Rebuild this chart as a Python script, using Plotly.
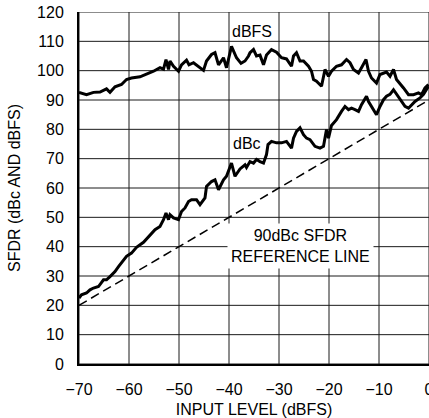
import plotly.graph_objects as go

# ---- data ----
dbfs_x = [-70.0, -68.5, -67.1, -65.8, -64.5, -63.8, -62.8, -61.5, -60.5, -59.5, -57.8, -56.5,
          -55.1, -53.8, -53.1, -52.6, -52.1, -51.8, -51.1, -50.1, -49.5, -48.5, -48.0, -47.1,
          -46.1, -45.1, -44.5, -43.5, -42.8, -42.1, -41.1, -40.5, -39.5, -38.5, -37.6, -36.8,
          -36.1, -35.8, -35.1, -34.5, -33.8, -33.1, -32.5, -31.5, -30.5, -29.5, -28.5, -27.5,
          -27.1, -26.5, -25.8, -25.1, -24.1, -23.5, -23.1, -22.5, -21.5, -20.8, -20.1, -19.5,
          -18.5, -17.5, -16.5, -15.8, -15.1, -14.1, -13.5, -12.6, -12.1, -11.5, -10.5, -9.8,
          -8.5, -7.8, -7.1, -6.5, -5.1, -4.1, -3.1, -2.1, -1.5, -0.8, -0.1]
dbfs_y = [92.6, 91.8, 92.6, 92.7, 93.8, 92.6, 94.5, 95.3, 97.0, 97.5, 97.9, 98.7,
          99.8, 101.0, 100.5, 103.8, 100.4, 103.3, 101.5, 99.8, 102.0, 103.6, 102.0, 102.7,
          101.5, 100.1, 103.3, 105.5, 106.1, 102.0, 104.4, 101.0, 108.3, 104.4, 102.5, 103.3,
          105.0, 106.1, 107.2, 105.0, 105.3, 102.0, 105.3, 107.2, 106.3, 104.4, 104.0, 101.5,
          105.0, 106.1, 103.3, 103.3, 101.5, 99.8, 97.0, 96.4, 94.7, 100.4, 98.1, 99.8,
          101.5, 102.0, 103.8, 102.7, 100.4, 99.2, 101.0, 103.8, 99.8, 97.5, 95.8, 98.7,
          99.5, 98.1, 100.4, 97.0, 94.1, 91.8, 91.8, 92.4, 91.8, 94.1, 95.3]

dbc_x = [-70.0, -69.5, -68.5, -67.8, -67.1, -66.1, -65.1, -64.5, -63.8, -62.8, -62.1, -61.1,
         -60.5, -59.5, -58.5, -57.1, -55.8, -54.8, -53.8, -53.1, -52.6, -52.1, -51.8, -51.1,
         -50.1, -49.5, -48.8, -48.1, -47.5, -46.5, -45.8, -44.8, -44.5, -43.5, -42.8, -42.1,
         -41.1, -40.5, -39.5, -38.8, -37.8, -36.8, -36.5, -35.8, -35.1, -34.5, -33.8, -33.1,
         -32.5, -32.2, -31.5, -30.5, -29.5, -28.5, -27.5, -27.1, -26.5, -25.8, -25.1, -24.5,
         -23.8, -22.8, -21.8, -21.1, -20.5, -20.1, -19.5, -18.8, -18.5, -17.5, -16.8, -16.1,
         -15.5, -14.8, -14.1, -13.5, -12.5, -12.1, -11.5, -10.5, -9.8, -9.1, -8.5, -7.8,
         -7.1, -6.5, -5.8, -4.8, -4.1, -3.5, -2.8, -1.8, -1.1, -0.1]
dbc_y = [22.5, 23.6, 24.2, 25.3, 25.9, 26.4, 28.7, 28.7, 29.8, 31.5, 33.2, 35.5,
         36.7, 37.8, 39.8, 41.5, 44.0, 45.8, 46.9, 49.2, 51.5, 49.2, 50.9, 49.8,
         49.2, 52.0, 53.2, 55.4, 56.0, 56.0, 54.3, 56.6, 60.5, 62.2, 62.8, 59.4,
         62.8, 64.0, 68.5, 64.0, 66.5, 67.9, 67.0, 69.0, 68.5, 69.7, 69.0, 68.5,
         71.4, 74.8, 75.9, 75.4, 75.4, 75.9, 73.6, 77.0, 79.3, 80.5, 78.2, 77.0,
         76.5, 74.2, 73.6, 74.2, 79.9, 77.0, 81.3, 82.8, 83.3, 86.1, 87.8, 86.7,
         87.2, 86.7, 86.1, 88.4, 91.3, 89.5, 87.8, 85.0, 87.8, 90.1, 91.3, 91.9,
         93.5, 91.9, 90.1, 87.8, 87.2, 88.4, 89.5, 90.7, 91.9, 94.7]

ref_x = [-70, 0]
ref_y = [20, 90]

x_ticks = [-70, -60, -50, -40, -30, -20, -10, 0]
x_tick_labels = ["\u221270", "\u221260", "\u221250", "\u221240", "\u221230", "\u221220", "\u221210", "0"]
y_ticks = [0, 10, 20, 30, 40, 50, 60, 70, 80, 90, 100, 110, 120]

FONT = "Liberation Sans, Arial, sans-serif"
GRID = "#1a1a1a"

fig = go.Figure()
fig.add_trace(go.Scatter(x=ref_x, y=ref_y, mode="lines",
                         line=dict(color="black", width=1.5, dash="9px,5px"),
                         showlegend=False, hoverinfo="skip"))
fig.add_trace(go.Scatter(x=dbc_x, y=dbc_y, mode="lines",
                         line=dict(color="black", width=3), showlegend=False))
fig.add_trace(go.Scatter(x=dbfs_x, y=dbfs_y, mode="lines",
                         line=dict(color="black", width=3), showlegend=False))

# grid lines at the tick values (drawn below the traces)
for xv in x_ticks:
    fig.add_shape(type="line", xref="x", yref="paper", x0=xv, x1=xv, y0=0, y1=1,
                  line=dict(color=GRID, width=1), layer="below")
for yv in y_ticks:
    fig.add_shape(type="line", xref="paper", yref="y", x0=0, x1=1, y0=yv, y1=yv,
                  line=dict(color=GRID, width=1), layer="below")

fig.add_annotation(x=-35.5, y=113.2, text="dBFS", showarrow=False,
                   font=dict(family=FONT, size=16, color="black"))
fig.add_annotation(x=-36.5, y=75.3, text="dBc", showarrow=False,
                   font=dict(family=FONT, size=16, color="black"))
fig.add_annotation(x=-25.8, y=40.2, text="90dBc SFDR<br>REFERENCE LINE", showarrow=False,
                   font=dict(family=FONT, size=16, color="black"),
                   bgcolor="white", borderpad=3)

fig.update_xaxes(range=[-70, 0], tickvals=x_ticks, ticktext=x_tick_labels,
                 showgrid=False, ticklabeloverflow="allow",
                 showline=True, linecolor="black", linewidth=2,
                 zeroline=False, ticks="outside", ticklen=10, tickcolor="white",
                 automargin=False,
                 tickfont=dict(family=FONT, size=16, color="black"),
                 title=dict(text="INPUT LEVEL (dBFS)", standoff=7,
                            font=dict(family=FONT, size=16, color="black")))
fig.update_yaxes(range=[0, 120], tickvals=y_ticks,
                 showgrid=False,
                 showline=True, linecolor="black", linewidth=2,
                 zeroline=False, ticks="outside", ticklen=10, tickcolor="white",
                 automargin=False,
                 tickfont=dict(family=FONT, size=16, color="black"),
                 title=dict(text="SFDR (dBc AND dBFS)", standoff=12,
                            font=dict(family=FONT, size=16, color="black")))

fig.update_layout(width=429, height=418, margin=dict(l=79, r=0, t=12, b=54),
                  paper_bgcolor="white", plot_bgcolor="white")

fig.write_html("out.html", config={"displayModeBar": False},
               post_script="document.body.style.margin='0';")
